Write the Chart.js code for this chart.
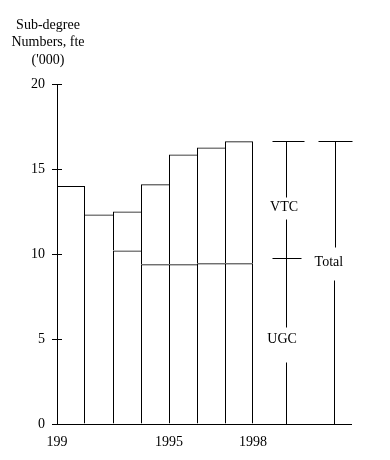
<!DOCTYPE html>
<html>
<head>
<meta charset="utf-8">
<script src="https://cdn.jsdelivr.net/npm/chart.js@4"></script>
<style>
  html, body { margin: 0; padding: 0; background: #fff; }
  #wrap { width: 390px; height: 460px; }
</style>
</head>
<body>
<div id="wrap"><canvas id="chart" width="390" height="460"></canvas></div>
<script>
// Sub-degree numbers, fte ('000), UGC + VTC stacked by year
const years = [1991, 1992, 1993, 1994, 1995, 1996, 1997];
const ugc = [14.0, 12.33, 10.2, 9.4, 9.4, 9.45, 9.45];
const vtc = [0, 0, 2.3, 4.7, 6.46, 6.82, 7.18];
const tickValues = [1991, 1995, 1998];
const tickLabels = ['199', '1995', '1998'];
const axisTitle = ['Sub-degree', 'Numbers, fte', "('000)"];
const bracketLabels = ['VTC', 'UGC', 'Total'];

const FONT = '14px "Liberation Serif", "Times New Roman", serif';
const totals = ugc.map((v, i) => v + vtc[i]);
const total = totals[totals.length - 1];
const ugcMark = 9.76;

// bar x positions: centre of each year slot
const points = (vals) => vals.map((v, i) => ({ x: years[i] + 0.5, y: v }));

// each shared edge is drawn once, by the taller of the two bars
const barBorder = (ctx) => {
    const i = ctx.dataIndex;
    const h = totals[i];
    const left = (i === 0 || h >= totals[i - 1]) ? 1 : 0;
    const right = (i === totals.length - 1 || h > totals[i + 1]) ? 1 : 0;
    return { top: 1, left: left, bottom: 0, right: right };
};

// title over the y axis, cross ticks, bracket annotations
const extras = {
    id: 'extras',
    afterDatasetsDraw(chart) {
        const ctx = chart.ctx;
        const x = chart.scales.x;
        const y = chart.scales.y;
        const px = (v) => Math.round(x.getPixelForValue(v)) + 0.5;
        const py = (v) => Math.round(y.getPixelForValue(v)) + 0.5;

        ctx.save();
        ctx.strokeStyle = '#000';
        ctx.lineWidth = 1;

        // inner half of y ticks
        ctx.beginPath();
        y.ticks.forEach(t => {
            const yy = py(t.value);
            ctx.moveTo(x.left, yy);
            ctx.lineTo(x.left + 5, yy);
        });
        ctx.stroke();

        const segs = [
            // VTC / UGC bracket, [x1, y1, x2, y2] in data units
            [1998.69, total, 1999.81, total],
            [1999.17, total, 1999.17, 13.37],
            [1999.17, 12.06, 1999.17, 5.71],
            [1999.17, 3.66, 1999.17, 0],
            [1998.69, ugcMark, 1999.7, ugcMark],
            // Total bracket
            [2000.33, total, 2001.52, total],
            [2000.94, total, 2000.94, 10.43],
            [2000.9, 8.47, 2000.9, 0]
        ];
        ctx.beginPath();
        segs.forEach(s => {
            ctx.moveTo(px(s[0]), py(s[1]));
            ctx.lineTo(px(s[2]), py(s[3]));
        });
        ctx.stroke();

        ctx.fillStyle = '#000';
        ctx.font = FONT;
        ctx.textAlign = 'center';
        ctx.textBaseline = 'middle';
        ctx.fillText(bracketLabels[0], x.getPixelForValue(1999.11), y.getPixelForValue(12.73));
        ctx.fillText(bracketLabels[1], x.getPixelForValue(1999.04), y.getPixelForValue(4.99));
        ctx.fillText(bracketLabels[2], x.getPixelForValue(2000.71), y.getPixelForValue(9.5));

        // axis title, three centred lines
        axisTitle.forEach((line, i) => {
            ctx.fillText(line, 48, 25 + i * 17.5);
        });
        ctx.restore();
    }
};

const barStyle = {
    backgroundColor: 'rgba(0,0,0,0)',
    borderColor: '#000',
    borderWidth: barBorder,
    borderSkipped: false,
    inflateAmount: 0,
    grouped: false,
    barPercentage: 1,
    categoryPercentage: 1
};

new Chart(document.getElementById('chart'), {
    type: 'bar',
    data: {
        datasets: [
            { label: 'UGC', data: points(ugc), ...barStyle },
            { label: 'VTC', data: points(vtc), ...barStyle }
        ]
    },
    options: {
        responsive: false,
        animation: false,
        devicePixelRatio: 1,
        layout: { padding: { top: 84, right: 39, bottom: 0, left: 0 } },
        plugins: {
            legend: { display: false },
            tooltip: { enabled: false }
        },
        scales: {
            x: {
                type: 'linear',
                min: 1991,
                max: 2001.5,
                offset: false,
                grid: { display: false, offset: false },
                border: { display: true, color: '#000', width: 1 },
                afterBuildTicks: (scale) => {
                    scale.ticks = tickValues.map(v => ({ value: v }));
                },
                afterFit: (scale) => { scale.height = 36; },
                ticks: {
                    color: '#000',
                    font: { family: '"Liberation Serif", serif', size: 14 },
                    padding: 2,
                    maxRotation: 0,
                    autoSkip: false,
                    callback: (value) => tickLabels[tickValues.indexOf(value)]
                }
            },
            y: {
                stacked: true,
                min: 0,
                max: 20,
                grid: {
                    display: true,
                    drawOnChartArea: false,
                    drawTicks: true,
                    tickLength: 5,
                    color: '#000'
                },
                border: { display: true, color: '#000', width: 1 },
                afterFit: (scale) => { scale.width = 57; },
                ticks: {
                    stepSize: 5,
                    color: '#000',
                    font: { family: '"Liberation Serif", serif', size: 14 },
                    padding: 7
                }
            }
        }
    },
    plugins: [extras]
});
</script>
</body>
</html>
